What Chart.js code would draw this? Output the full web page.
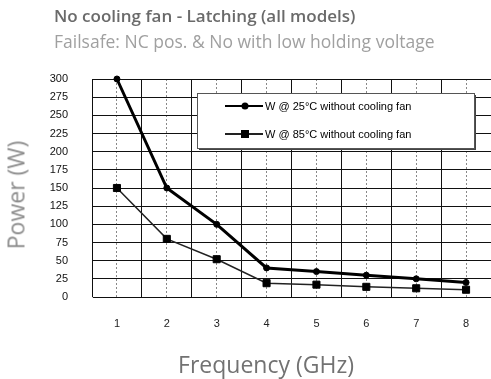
<!DOCTYPE html>
<html>
<head>
<meta charset="utf-8">
<script src="https://cdn.jsdelivr.net/npm/chart.js@4.4.0/dist/chart.umd.min.js"></script>
<style>
  html, body { margin: 0; padding: 0; background: #fff; }
  #wrap { position: relative; width: 491px; height: 379px; overflow: hidden; }
  #chart { position: absolute; left: 0; top: 0; }
  .txt { position: absolute; white-space: nowrap; font-family: "Open Sans", Roboto, sans-serif; line-height: 1; }
  #title { left: 54px; top: 7px; font-size: 17px; font-weight: 600; color: #6a6a6a; }
  #subtitle { left: 54px; top: 33px; font-size: 17.5px; color: #a0a0a0; }
  #ytitle { left: 16px; top: 195px; font-size: 23px; color: #8c8c8c; transform: translate(-50%, -50%) rotate(-90deg); }
  #xtitle { left: 266px; top: 364px; font-size: 23px; color: #727272; transform: translate(-50%, -50%); }
</style>
</head>
<body>
<div id="wrap">
  <canvas id="chart" width="491" height="379"></canvas>
  <div class="txt" id="title">No cooling fan - Latching (all models)</div>
  <div class="txt" id="subtitle">Failsafe: NC pos. &amp; No with low holding voltage</div>
  <div class="txt" id="ytitle">Power (W)</div>
  <div class="txt" id="xtitle">Frequency (GHz)</div>
</div>
<script>
// Datos del gráfico
const frequencies = ['1', '2', '3', '4', '5', '6', '7', '8'];
const seriesNames = ['W @ 25°C without cooling fan', 'W @ 85°C without cooling fan'];
const power25 = [300, 150, 100, 40, 35, 30, 25, 20];
const power85 = [150, 80, 52, 19, 17, 14, 12, 10];

// Leyenda dibujada dentro del área del gráfico (caja con sombra)
const boxLegend = {
    id: 'boxLegend',
    afterDatasetsDraw(chart) {
        const c = chart.ctx;
        const x = 197, y = 93, w = 277, h = 55;
        c.save();
        c.fillStyle = '#444';
        c.fillRect(x + 2, y + 2, w, h);
        c.fillStyle = '#fff';
        c.fillRect(x, y, w, h);
        c.strokeStyle = '#555';
        c.lineWidth = 1;
        c.strokeRect(x + 0.5, y + 0.5, w, h);
        chart.data.datasets.forEach((ds, i) => {
            const cy = 106 + i * 28;
            c.strokeStyle = ds.borderColor;
            c.lineWidth = 2;
            c.beginPath();
            c.moveTo(225, cy);
            c.lineTo(263, cy);
            c.stroke();
            c.fillStyle = '#000';
            if (ds.pointStyle === 'rect') {
                c.fillRect(241, cy - 4, 8, 8);
            } else {
                c.beginPath();
                c.arc(245, cy, 3.5, 0, Math.PI * 2);
                c.fill();
            }
            c.font = '11px "Liberation Sans", Arial, sans-serif';
            c.textBaseline = 'middle';
            c.fillText(ds.label, 265, cy + 1);
        });
        c.restore();
    }
};

const config = {
    type: 'line',
    data: {
        labels: frequencies,
        datasets: [{
            label: seriesNames[0],
            data: power25,
            borderColor: '#000',
            borderWidth: 3,
            pointStyle: 'circle',
            pointRadius: 3,
            pointBorderWidth: 1,
            pointBackgroundColor: '#000',
            pointBorderColor: '#000',
            clip: false
        }, {
            label: seriesNames[1],
            data: power85,
            borderColor: '#222',
            borderWidth: 1.5,
            pointStyle: 'rect',
            pointRadius: 5,
            pointBorderWidth: 1,
            pointBackgroundColor: '#000',
            pointBorderColor: '#000',
            clip: false
        }]
    },
    options: {
        responsive: false,
        animation: false,
        layout: { autoPadding: false, padding: { top: 79, left: 0, right: 0, bottom: 0 } },
        plugins: {
            legend: { display: false },
            tooltip: { enabled: false }
        },
        scales: {
            x: {
                offset: true,
                grid: { offset: true, color: '#111', drawTicks: false },
                ticks: {
                    padding: 20,
                    color: '#222',
                    font: { family: '"Liberation Sans", Arial, sans-serif', size: 11 }
                },
                afterFit: s => { s.height = 82; }
            },
            // segundo eje solo para las líneas punteadas en cada categoría
            x2: {
                type: 'category',
                position: 'bottom',
                offset: true,
                grid: { offset: false, color: '#888', drawTicks: false },
                border: { dash: [2, 2] },
                ticks: { display: false },
                afterFit: s => { s.height = 0; }
            },
            y: {
                min: 0,
                max: 300,
                ticks: {
                    stepSize: 25,
                    padding: 24,
                    color: '#111',
                    font: { family: '"Liberation Sans", Arial, sans-serif', size: 11 }
                },
                grid: { color: '#111', drawTicks: false },
                afterFit: s => { s.width = 92; }
            }
        }
    },
    plugins: [boxLegend]
};

new Chart(document.getElementById('chart').getContext('2d'), config);
</script>
</body>
</html>
